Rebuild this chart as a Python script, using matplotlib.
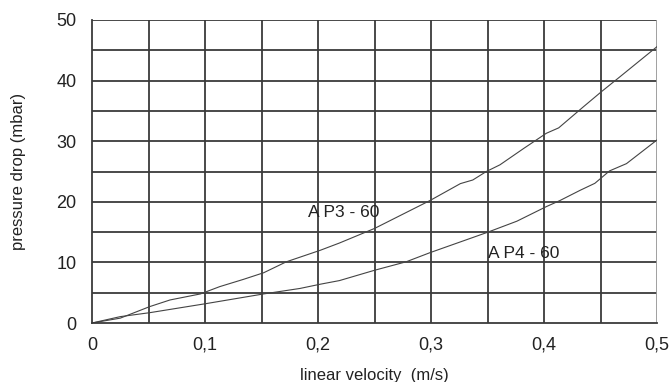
import numpy as np
import matplotlib.pyplot as plt

plt.rcParams['font.family'] = ['Liberation Sans', 'DejaVu Sans']

# AP3-60 curve
ap3_v = [0, 0.025, 0.051, 0.069, 0.096, 0.113, 0.134, 0.152, 0.172, 0.202, 0.219,
         0.250, 0.299, 0.326, 0.337, 0.349, 0.361, 0.382, 0.402, 0.413, 0.435,
         0.451, 0.467, 0.5]
ap3_dp = [0, 0.8, 2.7, 3.8, 4.8, 6.0, 7.2, 8.3, 10.1, 12.0, 13.2,
          15.6, 20.2, 23.0, 23.6, 25.0, 26.1, 28.8, 31.3, 32.2, 35.7,
          38.2, 40.6, 45.6]

# AP4-60 curve
ap4_v = [0, 0.025, 0.051, 0.101, 0.152, 0.184, 0.202, 0.219, 0.250, 0.278,
         0.299, 0.349, 0.376, 0.402, 0.414, 0.432, 0.445, 0.458, 0.473, 0.5]
ap4_dp = [0, 1.05, 1.7, 3.2, 4.8, 5.7, 6.4, 7.0, 8.7, 10.1,
          11.6, 14.9, 16.8, 19.2, 20.2, 21.9, 23.05, 25.1, 26.3, 30.2]

x_ticks = [0, 0.1, 0.2, 0.3, 0.4, 0.5]
x_ticklabels = ["0", "0,1", "0,2", "0,3", "0,4", "0,5"]
y_ticks = [0, 10, 20, 30, 40, 50]

fig = plt.figure(figsize=(6.71, 3.82), dpi=100)
ax = fig.add_axes([92 / 671, 1 - 323 / 382, 565 / 671, 303 / 382])

grid_col = '#3a3a3a'
for gx in np.arange(0.05, 0.5, 0.05):
    ax.axvline(gx, color=grid_col, lw=1.3, zorder=1)
for gy in np.arange(5, 51, 5):
    ax.axhline(gy, color=grid_col, lw=1.3, zorder=1)
ax.axvline(0.5, color='#999999', lw=1.3, zorder=1)

ax.plot(ap3_v, ap3_dp, color='#444444', lw=0.8, zorder=2)
ax.plot(ap4_v, ap4_dp, color='#444444', lw=0.8, zorder=2)

ax.text(0.191, 18.2, "A P3 - 60", fontsize=12.5, va='center', ha='left', color='#222222')
ax.text(0.350, 11.5, "A P4 - 60", fontsize=12.5, va='center', ha='left', color='#222222')

ax.set_xlim(0, 0.5)
ax.set_ylim(0, 50)
ax.set_xticks(x_ticks)
ax.set_xticklabels(x_ticklabels)
ax.set_yticks(y_ticks)
ax.tick_params(axis='both', length=0, labelsize=13, colors='#222222')
ax.tick_params(axis='x', pad=10)
ax.tick_params(axis='y', pad=11)
for s in ['top', 'right']:
    ax.spines[s].set_visible(False)
for s in ['left', 'bottom']:
    ax.spines[s].set_color(grid_col)
    ax.spines[s].set_linewidth(1.3)

ax.set_xlabel("linear velocity  (m/s)", fontsize=12, color='#222222', labelpad=10)
ax.set_ylabel("pressure drop (mbar)", fontsize=12, color='#222222', labelpad=22)

fig.savefig("out.png", dpi=100)
